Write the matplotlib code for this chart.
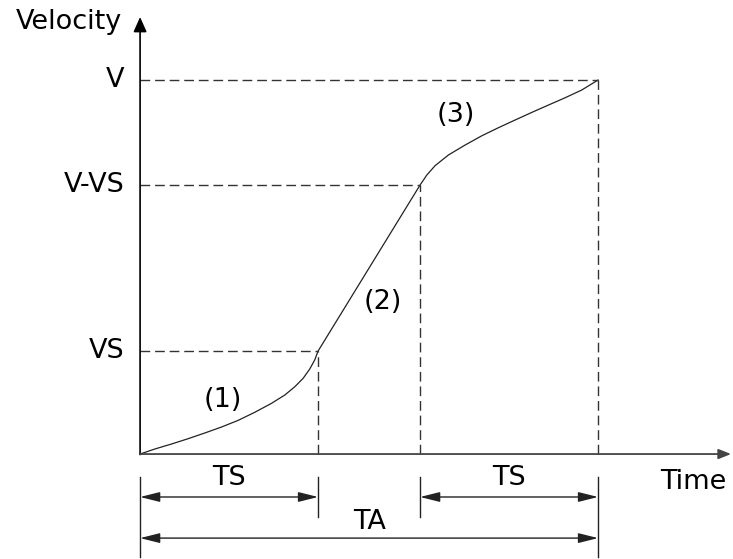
import matplotlib
matplotlib.use('Agg')
import matplotlib.pyplot as plt
import numpy as np

plt.rcParams['font.family'] = ['DejaVu Sans']

# time marks: 0, TS, TA-TS, TA   (unit = TS)
time_marks = [0.0, 1.0, 1.573, 2.573]
# velocity marks (unit = VS)
vel_marks = [1.0, 2.612, 3.631]
vel_labels = ['VS', 'V-VS', 'V']

# segment (1): jerk-up phase
seg1_t = [0.0, 0.083, 0.176, 0.270, 0.363, 0.457, 0.551, 0.644,
          0.738, 0.813, 0.869, 0.916, 0.953, 0.981, 1.0]
seg1_v = [0.0, 0.049, 0.097, 0.149, 0.204, 0.262, 0.327, 0.405,
          0.492, 0.573, 0.653, 0.735, 0.825, 0.913, 1.0]
# segment (3): jerk-down phase
seg3_t = [1.573, 1.611, 1.657, 1.732, 1.826, 1.920, 2.013, 2.107,
          2.201, 2.294, 2.388, 2.481, 2.573]
seg3_v = [2.612, 2.709, 2.799, 2.903, 3.000, 3.090, 3.168, 3.243,
          3.317, 3.388, 3.459, 3.534, 3.631]

seg_names = ['(1)', '(2)', '(3)']
seg_label_pos = [(0.466, 0.524), (1.365, 1.476), (1.775, 3.291)]

fig = plt.figure(figsize=(7.33, 5.59), dpi=100)
ax = fig.add_axes([0, 0, 1, 1])
ax.set_xlim(-0.787, 3.331)
ax.set_ylim(-1.019, 4.408)
ax.axis('off')

# the S-curve, all three phases in one line
curve_t = seg1_t + seg3_t
curve_v = seg1_v + seg3_v
ax.plot(curve_t, curve_v, color='#222222', lw=0.9, solid_joinstyle='round')

# dashed guides
dash = dict(color='#333333', lw=1.0, dashes=(7, 3.5))
ax.plot([0, time_marks[1]], [vel_marks[0]] * 2, **dash)
ax.plot([0, time_marks[2]], [vel_marks[1]] * 2, **dash)
ax.plot([0, time_marks[3]], [vel_marks[2]] * 2, **dash)
ax.plot([time_marks[1]] * 2, [0, vel_marks[0]], **dash)
ax.plot([time_marks[2]] * 2, [0, vel_marks[1]], **dash)
ax.plot([time_marks[3]] * 2, [0, vel_marks[2]], **dash)

# axes with arrows
ax.annotate('', xy=(0, 4.243), xytext=(0, -0.005),
            arrowprops=dict(arrowstyle='-|>,head_length=0.9,head_width=0.4',
                            mutation_scale=10, color='black', lw=1.2,
                            shrinkA=0, shrinkB=0))
ax.annotate('', xy=(3.32, 0), xytext=(0, 0),
            arrowprops=dict(arrowstyle='-|>,head_length=0.75,head_width=0.3',
                            mutation_scale=10, color='#444444', lw=1.3,
                            shrinkA=0, shrinkB=0))

fs = 19.5
ax.text(-0.1, 4.19, 'Velocity', ha='right', va='center', fontsize=fs)
ax.text(3.107, -0.272, 'Time', ha='center', va='center', fontsize=fs)
for v, lab in zip(vel_marks, vel_labels):
    ax.text(-0.09, v, lab, ha='right', va='center', fontsize=fs)

for name, (tx, vy) in zip(seg_names, seg_label_pos):
    ax.text(tx, vy, name, ha='center', va='center', fontsize=fs)

# dimension lines
ext = dict(color='#222222', lw=1.0)
ax.plot([time_marks[0]] * 2, [-0.223, -1.0], **ext)
ax.plot([time_marks[1]] * 2, [-0.223, -0.61], **ext)
ax.plot([time_marks[2]] * 2, [-0.223, -0.61], **ext)
ax.plot([time_marks[3]] * 2, [-0.223, -1.0], **ext)

dim_arrow = dict(arrowstyle='<|-|>,head_length=1.2,head_width=0.3',
                 mutation_scale=10, color='#222222', lw=1.0,
                 shrinkA=0, shrinkB=0)
ax.annotate('', xy=(time_marks[0], -0.417), xytext=(time_marks[1], -0.417),
            arrowprops=dim_arrow)
ax.annotate('', xy=(time_marks[2], -0.417), xytext=(time_marks[3], -0.417),
            arrowprops=dim_arrow)
ax.annotate('', xy=(time_marks[0], -0.816), xytext=(time_marks[3], -0.816),
            arrowprops=dim_arrow)

ax.text((time_marks[0] + time_marks[1]) / 2, -0.233, 'TS', ha='center', va='center', fontsize=fs)
ax.text((time_marks[2] + time_marks[3]) / 2, -0.233, 'TS', ha='center', va='center', fontsize=fs)
ax.text(1.29, -0.66, 'TA', ha='center', va='center', fontsize=fs)

fig.savefig('out.png', dpi=100)
